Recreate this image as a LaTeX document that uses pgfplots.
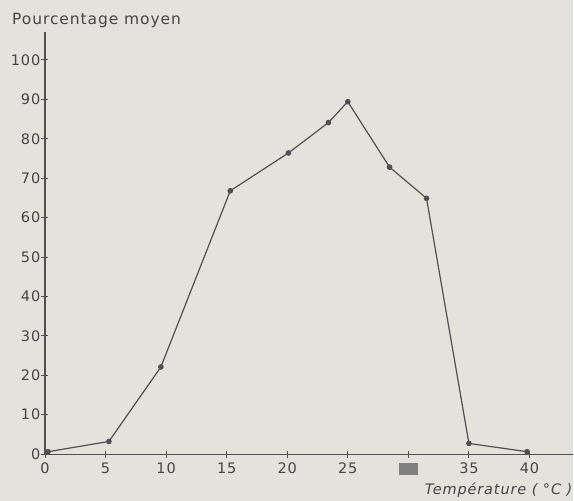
\documentclass[border=0pt]{standalone}
\usepackage{fontspec}
\setmainfont{DejaVu Sans}
\newfontfamily\lett[LetterSpace=6]{DejaVu Sans}
\usepackage{pgfplots}
\pgfplotsset{compat=1.18}
\definecolor{bgcol}{HTML}{E5E2DE}
\definecolor{ink}{HTML}{505050}
\definecolor{txt}{HTML}{454545}
\newcommand{\lf}{\lett\fontsize{14.5}{16}\selectfont}
\begin{document}
\begin{tikzpicture}
\fill[bgcol] (0,0) rectangle (574pt,501pt);
\begin{axis}[
  at={(45pt,46.5pt)}, anchor=south west,
  scale only axis, width=529pt, height=422.5pt,
  xmin=0, xmax=43.63, ymin=0, ymax=107.1,
  axis lines=left,
  axis line style={-, draw=ink, line width=1.1pt},
  xtick={0,5,...,40},
  xticklabels={0,5,10,15,20,25,{\textcolor{gray}{\rule[-1pt]{19pt}{12pt}}},35,40},
  ytick={0,10,...,100},
  tick align=center, major tick length=7pt,
  tick style={draw=ink, line width=0.9pt},
  /pgf/number format/assume math mode=true,
  ticklabel style={font=\lf, text=txt},
  yticklabel style={inner sep=1pt},
  xticklabel style={yshift=-2pt},
  clip=false,
]
\addplot[ink, line width=1.2pt, mark=*, mark size=2.2pt, mark options={fill=ink, draw=ink}] coordinates {
  (0.25,0.6) (5.28,3.2) (9.57,22.1) (15.3,66.8) (20.1,76.4) (23.4,84.1)
  (25.0,89.4) (28.45,72.8) (31.5,64.9) (35.0,2.7) (39.8,0.6)
};
\end{axis}
\node[anchor=base west, font=\lett\fontsize{15.5}{17}\selectfont, text=txt, inner sep=0pt] at (12pt,476pt) {Pourcentage moyen};
\node[anchor=base east, font=\lf\itshape, text=txt, inner sep=0pt] at (573pt,6pt) {Température ( °C )};
\end{tikzpicture}
\end{document}
